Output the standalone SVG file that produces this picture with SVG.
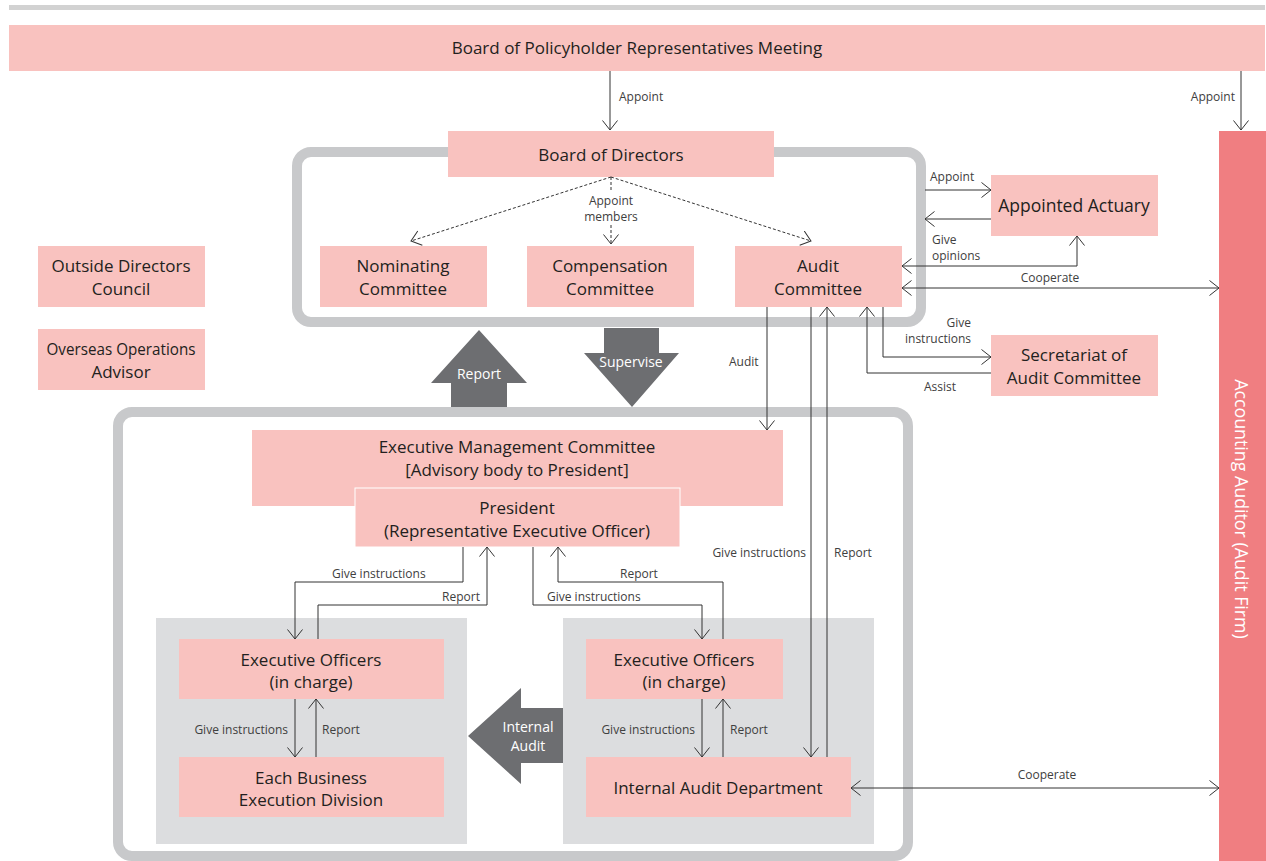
<svg xmlns="http://www.w3.org/2000/svg" width="1266" height="861" viewBox="0 0 1266 861">
  <style>
    .box { fill: #f9c2bf; }
    .frame { fill: none; stroke: #c8c9cb; stroke-width: 10; }
    .panel { fill: #dcdddf; }
    .big { fill: #6d6e71; }
    .t { font-family: 'Open Sans', 'Noto Sans', 'DejaVu Sans', sans-serif; font-size: 17px; fill: #231f20; text-anchor: middle; }
    .lbl { font-family: 'Open Sans', 'Noto Sans', 'DejaVu Sans', sans-serif; font-size: 12px; fill: #404040; }
    .end { text-anchor: end; }
    .mid { text-anchor: middle; }
    .wt { font-family: 'Open Sans', 'Noto Sans', 'DejaVu Sans', sans-serif; font-size: 14px; fill: #ffffff; text-anchor: middle; }
    .c { fill: none; stroke: #333333; stroke-width: 1; }
    .dash { stroke-dasharray: 3 2; }
    .a { marker-end: url(#head); }
    .b { marker-start: url(#head); marker-end: url(#head); }
  </style>
  <defs>
    <marker id="head" markerUnits="userSpaceOnUse" markerWidth="12" markerHeight="18" refX="10" refY="8" orient="auto-start-reverse">
      <path d="M0.5,0.5 L10,8 L0.5,15.5" fill="none" stroke="#333333" stroke-width="1"/>
    </marker>
  </defs>

  <!-- top rule -->
  <rect x="9" y="5" width="1256" height="5" fill="#d2d2d2"/>

  <!-- frames and panels -->
  <g id="frames">
    <rect class="frame" x="297" y="152" width="624" height="170" rx="14"/>
    <rect class="frame" x="118" y="412" width="790" height="444" rx="14"/>
    <rect class="panel" x="156" y="618" width="311" height="226"/>
    <rect class="panel" x="563" y="618" width="311" height="226"/>
  </g>

  <!-- broad arrows -->
  <g id="broad-arrows">
    <polygon class="big" points="451,407 451,383 431,383 479,330 527,383 507,383 507,407"/>
    <text class="wt" x="479" y="379">Report</text>
    <polygon class="big" points="604,328 659,328 659,353 679,353 632,407 584,353 604,353"/>
    <text class="wt" x="631" y="367">Supervise</text>
    <polygon class="big" points="563,708 521,708 521,688 468,736 521,784 521,763 563,763"/>
    <text class="wt" x="528" y="732">Internal</text>
    <text class="wt" x="528" y="751">Audit</text>
  </g>

  <g id="policyholder-meeting">
    <rect class="box" x="9" y="25" width="1256" height="46"/>
    <text class="t" x="637" y="54">Board of Policyholder Representatives Meeting</text>
  </g>

  <g id="accounting-auditor">
    <rect x="1219" y="131" width="47" height="730" fill="#f07e81"/>
    <text class="wt" style="font-size:17.8px" transform="translate(1241,509) rotate(90)" x="0" y="6">Accounting Auditor (Audit Firm)</text>
  </g>

  <g id="board-of-directors">
    <rect class="box" x="448" y="131" width="326" height="46"/>
    <text class="t" x="611" y="161">Board of Directors</text>
  </g>

  <g id="nominating-committee">
    <rect class="box" x="320" y="246" width="167" height="61"/>
    <text class="t" x="403" y="272">Nominating</text>
    <text class="t" x="403" y="295">Committee</text>
  </g>

  <g id="compensation-committee">
    <rect class="box" x="527" y="246" width="167" height="61"/>
    <text class="t" x="610" y="272">Compensation</text>
    <text class="t" x="610" y="295">Committee</text>
  </g>

  <g id="audit-committee">
    <rect class="box" x="735" y="246" width="167" height="61"/>
    <text class="t" x="818" y="272">Audit</text>
    <text class="t" x="818" y="295">Committee</text>
  </g>

  <g id="appointed-actuary">
    <rect class="box" x="991" y="175" width="167" height="61"/>
    <text class="t" style="font-size:17.5px" x="1074" y="212">Appointed Actuary</text>
  </g>

  <g id="secretariat">
    <rect class="box" x="991" y="335" width="167" height="61"/>
    <text class="t" x="1074" y="361">Secretariat of</text>
    <text class="t" x="1074" y="384">Audit Committee</text>
  </g>

  <g id="outside-directors-council">
    <rect class="box" x="38" y="246" width="167" height="61"/>
    <text class="t" x="121" y="272">Outside Directors</text>
    <text class="t" x="121" y="295">Council</text>
  </g>

  <g id="overseas-operations-advisor">
    <rect class="box" x="38" y="329" width="167" height="61"/>
    <text class="t" x="121" y="355" textLength="149" lengthAdjust="spacingAndGlyphs">Overseas Operations</text>
    <text class="t" x="121" y="378">Advisor</text>
  </g>

  <g id="executive-management-committee">
    <rect class="box" x="252" y="430" width="531" height="76"/>
    <text class="t" x="517" y="453">Executive Management Committee</text>
    <text class="t" x="517" y="476">[Advisory body to President]</text>
  </g>

  <g id="president">
    <rect class="box" x="355" y="488" width="325" height="59" stroke="#ffffff" stroke-width="1"/>
    <text class="t" x="517" y="514">President</text>
    <text class="t" x="517" y="537">(Representative Executive Officer)</text>
  </g>

  <g id="executive-officers-left">
    <rect class="box" x="179" y="639" width="265" height="60"/>
    <text class="t" x="311" y="666">Executive Officers</text>
    <text class="t" x="311" y="688">(in charge)</text>
  </g>

  <g id="business-execution-division">
    <rect class="box" x="179" y="757" width="265" height="60"/>
    <text class="t" x="311" y="784">Each Business</text>
    <text class="t" x="311" y="806">Execution Division</text>
  </g>

  <g id="executive-officers-right">
    <rect class="box" x="586" y="639" width="197" height="60"/>
    <text class="t" x="684" y="666">Executive Officers</text>
    <text class="t" x="684" y="688">(in charge)</text>
  </g>

  <g id="internal-audit-department">
    <rect class="box" x="586" y="757" width="265" height="60"/>
    <text class="t" x="718" y="794">Internal Audit Department</text>
  </g>

  <!-- connectors -->
  <g id="connectors">
    <line class="c a" x1="610" y1="71" x2="610" y2="130"/>
    <line class="c a" x1="1241" y1="71" x2="1241" y2="130"/>

    <line class="c dash a" x1="611" y1="177" x2="411" y2="241"/>
    <line class="c dash a" x1="611" y1="177" x2="811" y2="241"/>
    <line class="c dash" x1="611" y1="177" x2="611" y2="192"/>
    <line class="c dash a" x1="611" y1="225" x2="611" y2="244"/>

    <line class="c a" x1="925" y1="190" x2="991" y2="190"/>
    <line class="c a" x1="991" y1="219" x2="925" y2="219"/>
    <polyline class="c b" points="902,266 1077,266 1077,236"/>
    <line class="c b" x1="902" y1="288" x2="1219" y2="288"/>
    <polyline class="c a" points="883,307 883,357 991,357"/>
    <polyline class="c a" points="991,373 867,373 867,307"/>

    <line class="c a" x1="767" y1="307" x2="767" y2="430"/>
    <line class="c a" x1="811" y1="307" x2="811" y2="757"/>
    <line class="c a" x1="827" y1="757" x2="827" y2="307"/>

    <polyline class="c a" points="463,547 463,582 295,582 295,639"/>
    <polyline class="c a" points="318,639 318,605 487,605 487,547"/>
    <polyline class="c a" points="533,547 533,605 702,605 702,639"/>
    <polyline class="c a" points="723,639 723,582 558,582 558,547"/>

    <line class="c a" x1="295" y1="699" x2="295" y2="757"/>
    <line class="c a" x1="316" y1="757" x2="316" y2="699"/>
    <line class="c a" x1="702" y1="699" x2="702" y2="757"/>
    <line class="c a" x1="723" y1="757" x2="723" y2="699"/>

    <line class="c b" x1="851" y1="788" x2="1219" y2="788"/>
  </g>

  <!-- connector labels -->
  <g id="labels">
    <text class="lbl" x="619" y="101">Appoint</text>
    <text class="lbl end" x="1235" y="101">Appoint</text>
    <text class="lbl mid" x="611" y="205">Appoint</text>
    <text class="lbl mid" x="611" y="221">members</text>
    <text class="lbl" x="930" y="181">Appoint</text>
    <text class="lbl" x="932" y="244">Give</text>
    <text class="lbl" x="932" y="260">opinions</text>
    <text class="lbl mid" x="1050" y="282">Cooperate</text>
    <text class="lbl end" x="971" y="327">Give</text>
    <text class="lbl end" x="971" y="343">instructions</text>
    <text class="lbl" x="924" y="391">Assist</text>
    <text class="lbl" x="729" y="366">Audit</text>
    <text class="lbl end" x="806" y="557">Give instructions</text>
    <text class="lbl" x="834" y="557">Report</text>
    <text class="lbl" x="332" y="578">Give instructions</text>
    <text class="lbl end" x="480" y="601">Report</text>
    <text class="lbl" x="620" y="578">Report</text>
    <text class="lbl" x="547" y="601">Give instructions</text>
    <text class="lbl end" x="288" y="734">Give instructions</text>
    <text class="lbl" x="322" y="734">Report</text>
    <text class="lbl end" x="695" y="734">Give instructions</text>
    <text class="lbl" x="730" y="734">Report</text>
    <text class="lbl mid" x="1047" y="779">Cooperate</text>
  </g>
</svg>
